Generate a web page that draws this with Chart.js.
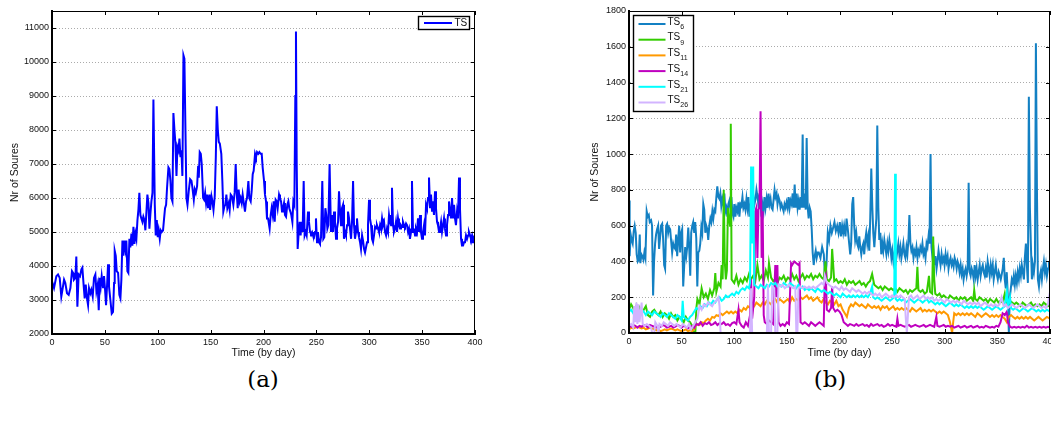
<!DOCTYPE html>
<html><head><meta charset="utf-8">
<script src="https://cdn.jsdelivr.net/npm/chart.js@4.4.1/dist/chart.umd.min.js"></script>
<style>
html,body{margin:0;padding:0;background:#fff;overflow:hidden;width:1051px;height:421px;position:relative;}
#ca{position:absolute;left:0;top:0;}
#cb{position:absolute;left:560px;top:0;}
.cap{position:absolute;top:365px;width:100px;text-align:center;font-family:"DejaVu Serif","Liberation Serif",serif;font-size:23px;line-height:28px;color:#000;}
</style></head><body>
<canvas id="ca" width="500" height="359"></canvas>
<canvas id="cb" width="520" height="359"></canvas>
<div class="cap" style="left:213px">(a)</div>
<div class="cap" style="left:780px">(b)</div>
<script>
// ---------- DATA ----------
const xTicks = [0,50,100,150,200,250,300,350,400];
const yTicksA = [2000,3000,4000,5000,6000,7000,8000,9000,10000,11000];
const yTicksB = [0,200,400,600,800,1000,1200,1400,1600,1800];
const xTitle = 'Time (by day)';
const yTitle = 'Nr of Soures';
const labelA = 'TS';
const labelsB = ['TS','TS','TS','TS','TS','TS'];
const subsB = ['6','9','11','14','21','26'];

// (a) total sources per day [day, count]
const tsTotal = [[0,3550],[1.9,3350],[4.1,3700],[5.7,3750],[7.3,3650],[8.8,3100],[10.4,3400],[11.4,3600],[12.6,3500],[14.2,3200],[15.8,3150],[17.4,3350],[18.9,3850],[19.9,3800],[20.8,3600],[22.1,3650],[23,4280],[24,2800],[25.2,3750],[26.5,3700],[27.8,3900],[28.7,3950],[30,3400],[30.9,3050],[31.9,3450],[33.1,3050],[34.1,2850],[35,3350],[36.3,3200],[37.2,3300],[38.5,3100],[39.7,3650],[41,3750],[42,3250],[43.2,3450],[44.2,2700],[45.1,3650],[46.1,3400],[47,3700],[48.3,3350],[49.2,3700],[50.2,3300],[51.1,2850],[52.1,3450],[53,4050],[53.9,3400],[55.2,3000],[56.5,2600],[57.7,2650],[58.7,3500],[59.3,4450],[60.3,4300],[61.2,3850],[62.5,3800],[63.7,3150],[64.7,3050],[65.6,3600],[66.6,4750],[67.5,4300],[68.5,4750],[69.4,4500],[70.3,4750],[71.3,3850],[72.2,3800],[73.2,4800],[74.1,4550],[75.1,4950],[76,4600],[77,5150],[77.9,4650],[78.9,4950],[79.8,4800],[80.8,5350],[81.7,5650],[82.6,6150],[83.6,5500],[84.5,5400],[85.5,5300],[86.4,5450],[87.4,5350],[88.3,5050],[89.3,5600],[90.2,6100],[91.2,5850],[92.1,5100],[93.1,5550],[94,5900],[95,6150],[95.9,8900],[97.2,5800],[98.1,4900],[99.1,5350],[100,4850],[100.9,5050],[101.9,4800],[102.8,5050],[103.8,5000],[105,5050],[106,5400],[106.9,5700],[107.9,5800],[108.8,6300],[110.1,6900],[111,6850],[112,6500],[112.9,6000],[113.9,5900],[114.8,8500],[115.8,8000],[116.7,7600],[117.7,6650],[118.6,7500],[119.6,7400],[120.5,7750],[121.5,7200],[122.4,7400],[123.3,6650],[124.3,10200],[125.2,10100],[126.2,8000],[127.1,6000],[128.1,5800],[129.3,6200],[130.6,6550],[131.9,6500],[132.8,6300],[134.1,5950],[135,6250],[136,6150],[137.2,6350],[138.2,6950],[138.8,6600],[139.7,7350],[140.7,7300],[141.6,7000],[142.9,6000],[143.8,5950],[144.8,6150],[145.7,5850],[146.7,6100],[147.6,5700],[148.9,6100],[149.5,5650],[150.8,6050],[151.7,5900],[152.7,5650],[153.9,6050],[154.9,7200],[155.8,8700],[156.8,8000],[157.7,7650],[158.7,7600],[160.1,7300],[161.1,6500],[162,5600],[163,5750],[163.9,5800],[164.9,6100],[165.8,5700],[167.1,5850],[168,5650],[169,6100],[170.2,6050],[171.5,5800],[172.7,6150],[173.7,7000],[174.6,6200],[175.6,5700],[176.5,6250],[177.5,5900],[178.4,6000],[179.4,5850],[180.3,6100],[181.6,5800],[182.5,5600],[183.5,5900],[184.4,6000],[185.7,6500],[186.6,6000],[187.9,5900],[188.8,6200],[189.8,6700],[190.7,6800],[192,7300],[192.9,7200],[193.9,7350],[195.1,7300],[196.1,7350],[197.3,7300],[198.3,7300],[199.2,6900],[200.5,6500],[201.4,6100],[202.4,5900],[203.3,5400],[204.3,5400],[205.8,5100],[206.8,5500],[207.7,5700],[208.7,5500],[209.6,5900],[210.6,5300],[211.5,5950],[212.5,5900],[213.4,5700],[214.7,6100],[215.6,6000],[216.6,5900],[217.5,5600],[218.4,5700],[219.4,5850],[220.3,5500],[221.3,5450],[222.5,5800],[223.5,5900],[224.4,5700],[225.4,5600],[226.3,5500],[227.3,5300],[228.2,5900],[229.2,5800],[230.1,9000],[230.7,10900],[231.4,7000],[232.3,4500],[233.3,5000],[234.2,5300],[235.1,4900],[236.1,5300],[237,5000],[238,6500],[238.9,4900],[239.9,5000],[240.8,4900],[242.1,5600],[243,5300],[244,5000],[244.9,4950],[245.9,5000],[246.8,4900],[247.8,4850],[248.7,5000],[249.6,5400],[250.6,4700],[251.5,5000],[252.5,4700],[253.4,4650],[254.4,4850],[255.6,6500],[256.6,4800],[257.5,4850],[258.5,5700],[259.4,5500],[260.4,5100],[261.3,5200],[262.5,7000],[263.8,5000],[264.8,5500],[265.7,5000],[266.7,5600],[267.6,5300],[268.6,4800],[269.5,5100],[270.5,5300],[271.4,6200],[272.4,5600],[273.3,5200],[274.2,5700],[275.2,5800],[276.1,4800],[277.1,5000],[278,4900],[279,5200],[279.9,5600],[280.9,5400],[281.8,5100],[282.8,4800],[283.7,5300],[284.7,6500],[285.6,5200],[286.5,4800],[287.5,5000],[288.4,5400],[289.4,5000],[290.3,4850],[291.3,4700],[292.2,4500],[293.2,4900],[294.1,4750],[295.1,4500],[296,4400],[296.9,4400],[297.9,4700],[298.8,5200],[299.8,5950],[300.7,5400],[301.7,5200],[302.6,4800],[303.6,4700],[304.5,4900],[305.5,5150],[306.4,5100],[307.3,5200],[308.3,5100],[309.2,5000],[310.2,5200],[311.1,5100],[312.1,5400],[313,5200],[314,5300],[314.9,5000],[315.9,4900],[316.8,5100],[317.7,5000],[318.7,5500],[319.6,5300],[320.6,5200],[321.5,6300],[322.5,5200],[323.4,5000],[324.4,5100],[325.3,5300],[326.3,5000],[327.2,5400],[328.1,5200],[329.1,5100],[330,5200],[331,5150],[331.9,5300],[332.9,5200],[333.8,5150],[334.8,5250],[335.7,5200],[336.7,5000],[337.6,5100],[338.5,4800],[339.5,5000],[340.4,6500],[341.4,5000],[342.3,5100],[343.3,4900],[344.2,5100],[345.2,5000],[346.1,5400],[347.1,5000],[348,5500],[348.9,5000],[349.9,4800],[350.8,5000],[351.8,5200],[352.7,4900],[353.7,5800],[354.6,5700],[355.6,6000],[356.5,6600],[357.5,5700],[358.4,6100],[359.4,5600],[360.3,5900],[361.2,5500],[362.2,6200],[363.1,5700],[364.1,5300],[365,5200],[366,5000],[366.9,5100],[367.9,5300],[368.8,5000],[369.8,5200],[370.7,5400],[371.6,5100],[372.6,4900],[373.5,5200],[374.5,5500],[375.4,5900],[376.4,5600],[377.3,5400],[378.3,6000],[379.2,5400],[380.2,5800],[381.1,5400],[382,5200],[383,5600],[383.9,5400],[384.9,6600],[385.8,5700],[386.8,4800],[387.7,4600],[388.7,4600],[389.6,4700],[390.6,4700],[391.5,4900],[392.5,4800],[393.4,4900],[394.3,5000],[395.3,4900],[396.2,4800],[397.2,4900],[398.1,4700],[399.1,4700]];

// (b) per-source series [day, count]
const ts6 = [[0,740],[0.6,430],[1.6,550],[2.5,520],[3.5,500],[4.5,570],[5.4,600],[6.4,560],[7.3,440],[8.3,400],[9.2,410],[10.2,550],[10.8,390],[11.8,440],[12.7,430],[13.7,410],[14.6,450],[15.6,420],[16.8,680],[17.8,650],[18.8,660],[19.7,620],[21,630],[21.9,600],[22.9,210],[23.8,400],[24.8,500],[25.7,550],[26.7,580],[27.7,600],[28.6,470],[29.6,540],[30.5,600],[31.5,610],[32.4,530],[33.4,380],[34.3,360],[35.3,600],[36.2,610],[37.2,560],[38.1,590],[39.1,580],[40.1,510],[41,450],[42,500],[42.9,480],[43.9,470],[44.8,550],[45.8,430],[46.7,520],[47.7,600],[48.6,450],[49.6,560],[50.5,580],[51.5,260],[52.5,380],[53.4,480],[54.4,430],[55.3,480],[56.3,590],[57.2,480],[58.2,320],[59.1,560],[60.1,600],[61,620],[62,560],[62.9,620],[63.9,530],[64.9,260],[65.8,450],[66.8,460],[67.7,500],[68.7,590],[69.6,560],[70.6,720],[71.5,690],[72.5,560],[73.4,600],[74.4,580],[75.3,520],[76.3,600],[77.3,640],[78.2,620],[79.2,680],[80.1,640],[81.1,690],[82,680],[83,760],[83.9,820],[84.9,760],[85.8,750],[86.8,780],[87.7,710],[88.7,750],[89.6,720],[90.6,780],[91.6,680],[92.5,700],[93.5,650],[94.4,720],[95.4,740],[96.3,700],[97.3,760],[98.2,670],[99.2,650],[100.1,720],[101.1,650],[102,700],[103,680],[104,730],[104.9,650],[105.9,720],[106.8,710],[107.8,760],[108.7,700],[109.7,720],[110.6,690],[111.6,750],[112.5,700],[113.5,760],[114.4,650],[115.4,700],[116.4,760],[117.3,680],[118.3,760],[119.2,720],[120.2,750],[121.1,800],[122.1,760],[123,720],[124,780],[124.9,720],[125.9,650],[126.8,720],[127.8,680],[128.7,760],[129.7,700],[130.7,750],[131.6,700],[132.6,780],[133.5,720],[134.5,750],[135.4,700],[136.4,690],[137.3,740],[138.3,800],[139.2,760],[140.2,780],[141.1,720],[142.1,760],[143.1,740],[144,700],[145,720],[145.9,700],[146.9,680],[147.8,720],[148.8,700],[149.7,730],[150.7,700],[151.6,760],[152.6,700],[153.5,740],[154.5,720],[155.5,780],[156.4,700],[157.4,830],[158.3,700],[159.3,780],[160.2,700],[161.2,740],[162.1,690],[163.1,760],[164,700],[165,1110],[165.9,700],[166.9,780],[167.9,690],[168.8,1090],[169.8,700],[170.7,640],[171.7,700],[172.6,680],[173.6,580],[174.5,450],[175.5,380],[176.4,430],[177.4,460],[178.3,420],[179.3,450],[180.3,450],[181.9,420],[183.5,480],[185.1,440],[186.3,300],[187.6,380],[188.9,560],[190.1,520],[191.4,600],[192.7,560],[194,590],[195.2,620],[196.5,570],[197.8,600],[199,560],[200.3,620],[201.3,540],[202.5,600],[203.5,560],[204.4,600],[205.7,540],[206.7,640],[207.9,580],[209.2,500],[210.2,440],[211.1,500],[212.1,720],[213,760],[214,600],[214.9,520],[215.9,560],[216.8,500],[217.8,480],[218.8,540],[219.7,480],[220.7,440],[221.6,480],[222.6,500],[223.5,440],[224.5,520],[225.4,560],[226.4,500],[227.3,540],[228.3,460],[229.2,640],[230.2,920],[231.2,700],[232.1,560],[233.1,480],[234,560],[235,640],[235.9,1160],[236.9,700],[237.8,520],[238.8,560],[239.7,440],[240.7,500],[241.6,460],[242.6,520],[243.5,480],[244.5,440],[245.5,500],[246.4,460],[247.4,520],[248.3,480],[249.3,420],[250.2,460],[251.2,400],[252.1,440],[253.1,480],[254,420],[255,460],[255.9,500],[256.9,440],[257.9,480],[258.8,420],[259.8,460],[260.7,500],[261.7,440],[262.6,420],[263.6,480],[264.5,440],[265.5,520],[266.4,660],[267.4,500],[268.3,460],[269.3,480],[270.3,420],[271.2,460],[272.2,440],[273.1,480],[274.1,420],[275,460],[276,440],[276.9,480],[277.9,460],[278.8,500],[279.8,440],[280.7,460],[281.7,420],[282.7,500],[283.6,480],[284.6,540],[285.5,500],[286.5,1000],[287.4,480],[288.4,420],[289.3,460],[290.3,380],[291.2,430],[292.2,360],[293.1,400],[294.1,460],[295,420],[296,380],[297,440],[297.9,400],[298.9,420],[299.8,380],[300.8,440],[301.7,400],[302.7,430],[303.6,360],[304.6,400],[305.5,420],[306.5,380],[307.4,400],[308.4,370],[309.4,420],[310.3,400],[311.3,360],[312.2,400],[313.2,380],[314.1,340],[315.1,380],[316,330],[317,360],[317.9,300],[318.9,340],[319.8,360],[320.8,320],[321.8,360],[322.7,840],[323.7,340],[324.6,320],[325.6,360],[326.5,340],[327.5,300],[328.4,380],[329.4,320],[330.3,360],[331.3,300],[332.2,340],[333.2,380],[334.1,320],[335.1,360],[336.1,380],[337,340],[338,320],[338.9,360],[339.9,310],[340.8,400],[341.8,360],[342.7,320],[343.7,380],[344.6,340],[345.6,380],[346.5,300],[347.5,340],[348.5,380],[349.4,330],[350.4,300],[351.3,340],[352.3,320],[353.2,300],[354.2,330],[355.1,360],[356.1,420],[357,300],[358,250],[358.9,340],[359.9,210],[360.9,0],[361.8,200],[362.8,250],[363.7,300],[364.7,280],[365.6,320],[366.6,270],[367.5,320],[368.5,280],[369.4,340],[370.4,300],[371.3,360],[372.3,320],[373.2,380],[374.2,340],[375.2,300],[376.1,420],[377.1,500],[378,380],[379,280],[379.9,1320],[380.9,700],[381.8,500],[382.8,300],[383.7,380],[384.7,340],[385.7,400],[386.6,1620],[387.6,800],[388.5,300],[389.5,260],[390.4,320],[391.4,350],[392.3,300],[393.3,360],[394.2,400],[395.2,340],[396.1,380],[397.1,320],[398.1,360],[399,400],[400,350]];
const ts9 = [[0,130],[2,160],[4,140],[5,120],[7,150],[8,100],[10,140],[12,110],[14,130],[16,150],[18,100],[20,90],[22,120],[24,130],[26,110],[28,100],[30,120],[32,90],[34,110],[36,100],[38,80],[40,110],[42,90],[44,100],[46,70],[48,90],[50,80],[52,60],[54,90],[56,70],[58,60],[60,40],[61,10],[62,0],[63,0],[64,140],[65,190],[67,160],[69,250],[71,200],[73,220],[75,190],[77,240],[79,210],[81,250],[82,335],[83,230],[85,280],[87,260],[88,380],[89,300],[90,800],[91,400],[92,300],[93,350],[94,700],[96,600],[96.7,1170],[97.5,300],[100,280],[102,320],[104,270],[106,300],[108,280],[110,310],[112,290],[114,330],[116,300],[118,320],[120,290],[122,380],[124,300],[126,320],[128,290],[130,350],[132,310],[133,390],[135,310],[137,290],[139,300],[141,280],[143,310],[145,300],[147,320],[149,290],[151,310],[153,300],[155,330],[157,300],[159,320],[161,290],[163,310],[165,330],[167,300],[169,320],[171,310],[173,330],[175,300],[177,320],[179,310],[181,330],[183,310],[185,300],[186.7,400],[188,300],[190,290],[192,310],[193,470],[195,290],[197,300],[199,280],[201,290],[203,280],[205,300],[207,270],[209,290],[211,280],[213,290],[215,270],[217,280],[219,290],[221,270],[223,280],[225,260],[227,280],[229,290],[231,330],[233,270],[235,260],[237,250],[239,260],[241,240],[243,260],[245,250],[247,240],[249,250],[251,240],[253,250],[255,230],[257,250],[259,240],[261,230],[263,240],[265,220],[267,240],[269,230],[271,240],[273,250],[274,370],[275,240],[277,230],[279,240],[281,220],[283,230],[285,320],[286,230],[288,220],[289,540],[290,300],[291,220],[293,210],[295,220],[297,200],[299,210],[301,200],[303,190],[305,210],[307,200],[309,190],[311,200],[313,180],[315,200],[317,190],[319,200],[321,180],[323,190],[325,200],[327,180],[328,240],[329,190],[331,180],[333,200],[335,190],[337,180],[339,190],[341,170],[343,190],[345,180],[347,170],[349,190],[351,170],[353,180],[355,170],[357,220],[358,170],[360,160],[362,180],[364,170],[366,160],[368,170],[370,160],[372,150],[374,170],[376,160],[378,150],[380,160],[382,170],[384,150],[386,160],[388,150],[390,160],[392,150],[394,170],[396,160],[398,150],[400,160]];
const ts11 = [[0,20],[2,30],[4,25],[6,30],[8,35],[10,30],[12,25],[14,30],[16,20],[18,25],[20,30],[22,25],[24,20],[26,15],[28,20],[30,10],[32,15],[34,20],[36,15],[38,20],[40,25],[42,20],[44,15],[46,20],[48,15],[50,10],[52,15],[54,20],[56,10],[58,15],[60,10],[62,20],[63,40],[65,50],[67,45],[69,60],[71,55],[73,70],[75,80],[77,70],[79,90],[81,85],[83,100],[85,95],[87,110],[89,100],[91,110],[93,120],[95,110],[97,120],[99,110],[101,120],[103,110],[105,130],[107,120],[109,140],[111,130],[113,150],[115,140],[117,160],[119,150],[121,170],[123,160],[125,150],[127,170],[129,160],[131,180],[133,170],[135,160],[137,180],[139,190],[141,170],[143,190],[145,180],[147,170],[149,180],[151,190],[153,170],[155,200],[157,180],[159,190],[161,180],[163,200],[165,190],[167,200],[169,210],[171,190],[173,200],[175,180],[177,190],[179,200],[181,180],[183,170],[185,190],[187,170],[189,160],[191,180],[193,170],[195,160],[197,180],[199,150],[201,160],[203,130],[205,110],[207,90],[209,140],[211,160],[213,150],[215,170],[217,160],[219,150],[221,160],[223,150],[225,140],[227,160],[229,150],[231,140],[233,150],[235,140],[237,150],[239,130],[241,150],[243,140],[245,150],[247,130],[249,140],[251,150],[253,130],[255,140],[257,130],[259,140],[261,130],[263,140],[265,130],[267,120],[269,140],[271,130],[273,120],[275,130],[277,140],[279,120],[281,130],[283,120],[285,130],[287,120],[289,130],[291,120],[293,110],[295,120],[297,110],[299,120],[301,110],[303,100],[305,60],[307,0],[308,60],[309,110],[311,100],[313,110],[315,100],[317,110],[319,100],[321,110],[323,100],[325,110],[327,100],[329,90],[331,110],[333,100],[335,90],[337,100],[339,110],[341,100],[343,90],[345,100],[347,90],[349,100],[351,90],[353,100],[355,90],[357,80],[359,60],[361,90],[363,100],[365,90],[367,80],[369,90],[371,80],[373,90],[375,80],[377,90],[379,80],[381,90],[383,80],[385,70],[387,80],[389,90],[391,80],[393,70],[395,80],[397,90],[400,80]];
const ts14 = [[0,40],[2,35],[4,45],[6,40],[8,30],[10,40],[12,35],[14,45],[16,40],[18,30],[20,45],[22,40],[24,35],[26,30],[28,40],[30,35],[32,45],[34,40],[36,30],[38,35],[40,40],[42,30],[44,35],[46,45],[48,40],[50,30],[52,40],[54,35],[56,25],[58,35],[60,40],[62,30],[64,50],[66,45],[68,60],[70,40],[72,55],[74,50],[76,60],[78,45],[80,50],[82,60],[84,45],[86,55],[88,50],[90,60],[92,45],[94,50],[96,40],[98,55],[100,60],[102,50],[104,130],[105,60],[107,40],[109,30],[111,60],[113,40],[115,100],[116,300],[117,80],[119,200],[120,680],[121,700],[122,420],[123,690],[124,700],[125,1240],[126,420],[127,680],[128,100],[129,60],[131,50],[133,70],[135,60],[137,50],[139,380],[140,200],[141,380],[142,60],[144,40],[146,50],[148,40],[150,60],[152,50],[154,390],[155,380],[157,400],[159,390],[161,380],[162,390],[163,60],[165,50],[167,60],[169,50],[171,40],[173,60],[175,50],[177,40],[179,50],[181,60],[183,50],[185,40],[186,300],[187,320],[188,130],[190,120],[192,140],[193,260],[194,140],[196,120],[198,130],[200,120],[202,100],[204,60],[206,50],[208,40],[210,50],[212,45],[214,40],[216,50],[218,40],[220,45],[222,50],[224,40],[226,45],[228,35],[230,50],[232,40],[234,45],[236,50],[238,40],[240,45],[242,35],[244,40],[246,50],[248,40],[250,45],[252,40],[254,35],[255,80],[256,40],[258,45],[260,40],[262,35],[264,40],[266,45],[268,35],[270,40],[272,45],[274,40],[276,35],[278,40],[280,45],[282,35],[284,40],[286,45],[288,40],[290,35],[292,90],[293,40],[295,35],[297,40],[299,45],[301,35],[303,40],[305,35],[307,40],[309,30],[311,35],[313,40],[315,30],[317,35],[319,40],[321,30],[323,35],[325,40],[327,30],[329,35],[331,40],[333,30],[335,35],[337,30],[339,40],[341,35],[343,30],[345,35],[347,30],[349,40],[351,35],[353,60],[355,110],[357,100],[359,120],[360,60],[362,35],[364,30],[366,35],[368,30],[370,35],[372,30],[374,35],[376,30],[378,40],[380,30],[382,35],[384,30],[386,35],[388,30],[390,35],[392,30],[394,35],[396,30],[398,35],[400,30]];
const ts21 = [[0,120],[2,130],[4,110],[6,140],[8,120],[10,110],[12,130],[14,120],[16,100],[18,120],[20,110],[22,100],[24,120],[26,110],[28,100],[30,90],[32,110],[34,100],[36,90],[38,110],[40,100],[42,90],[44,80],[46,100],[48,90],[50,70],[51,180],[52,90],[54,80],[56,70],[58,90],[60,100],[62,120],[64,140],[66,130],[68,150],[70,140],[72,160],[74,150],[76,170],[78,160],[80,180],[82,170],[84,190],[86,200],[88,180],[90,190],[92,210],[94,200],[96,210],[98,220],[100,210],[102,230],[104,220],[106,240],[108,250],[110,240],[112,260],[114,250],[115,280],[116,930],[117,500],[118,930],[119,270],[121,260],[123,250],[125,270],[127,260],[129,250],[131,270],[133,260],[135,280],[137,270],[139,280],[141,260],[143,270],[145,260],[147,280],[149,270],[151,260],[153,280],[155,270],[157,260],[159,250],[161,270],[163,250],[165,260],[167,240],[169,250],[171,240],[173,250],[175,240],[177,230],[179,250],[181,240],[183,230],[185,240],[187,230],[189,220],[191,230],[193,220],[195,210],[197,220],[199,210],[201,200],[203,220],[205,210],[207,200],[209,210],[211,200],[213,210],[215,200],[217,210],[219,200],[221,210],[223,200],[225,210],[227,200],[229,220],[231,260],[232,200],[234,190],[236,200],[238,190],[240,180],[242,190],[244,200],[246,190],[248,180],[250,190],[252,200],[252.8,890],[253.5,190],[255,180],[257,190],[259,180],[261,190],[263,170],[265,180],[267,190],[269,180],[271,170],[273,180],[275,190],[277,180],[279,170],[281,180],[283,190],[285,170],[287,180],[289,170],[291,160],[293,170],[295,160],[297,170],[299,160],[301,150],[303,160],[305,170],[307,160],[309,150],[311,160],[313,150],[315,160],[317,150],[319,140],[321,150],[323,140],[325,150],[327,140],[329,150],[331,140],[333,150],[335,140],[337,130],[339,140],[341,150],[343,140],[345,130],[347,140],[349,150],[351,140],[353,130],[355,140],[357,150],[359,230],[360,150],[362,200],[363,140],[365,130],[367,140],[369,130],[371,120],[373,130],[375,140],[377,130],[379,120],[381,130],[383,140],[385,130],[387,120],[389,130],[391,120],[393,130],[395,120],[397,130],[400,120]];
const ts26 = [[0,40],[2,50],[4,30],[5,150],[6,60],[7,170],[8,50],[9,160],[10,60],[12,170],[13,50],[15,40],[17,50],[19,40],[21,30],[22,0],[24,0],[25,60],[27,40],[28,0],[29,50],[31,40],[33,60],[35,50],[37,40],[39,60],[41,50],[43,40],[45,50],[47,40],[49,30],[51,50],[53,40],[55,30],[57,50],[59,20],[61,40],[63,60],[65,80],[67,150],[69,130],[71,160],[73,150],[75,170],[77,160],[79,150],[81,170],[83,180],[85,200],[86,150],[87,0],[115,0],[116,250],[117,0],[131,0],[132,270],[133,0],[135,0],[136,260],[138,250],[139,0],[141,0],[142,270],[144,260],[146,270],[148,250],[150,260],[152,270],[154,260],[156,250],[158,260],[159,0],[160,0],[161,250],[163,260],[165,250],[167,260],[169,250],[171,260],[173,250],[175,260],[177,250],[179,260],[181,270],[183,280],[185,270],[186,320],[188,280],[190,270],[192,260],[194,250],[196,260],[198,250],[200,240],[202,260],[204,240],[206,250],[208,240],[210,230],[212,250],[214,240],[216,230],[218,240],[220,230],[222,220],[224,230],[226,220],[228,230],[230,220],[232,210],[234,220],[236,210],[238,220],[240,200],[242,210],[244,220],[246,210],[248,200],[250,210],[252,200],[254,210],[256,200],[258,210],[260,200],[262,190],[263,80],[264,0],[265,100],[266,200],[268,210],[270,190],[272,200],[274,210],[276,190],[278,200],[280,210],[282,190],[284,200],[286,190],[288,200],[290,180],[292,190],[294,180],[296,190],[298,180],[300,170],[302,190],[304,180],[306,170],[308,180],[310,170],[312,180],[314,170],[316,160],[318,180],[320,170],[322,160],[324,170],[326,160],[328,170],[330,160],[332,170],[334,150],[336,160],[338,170],[340,160],[342,150],[344,160],[346,150],[348,160],[350,150],[352,160],[354,200],[356,150],[358,160],[360,140],[362,150],[364,160],[366,150],[368,140],[370,150],[372,160],[374,150],[376,140],[378,150],[380,160],[382,150],[384,140],[386,150],[388,160],[390,150],[392,140],[394,150],[396,140],[398,160],[400,230]];

// ---------- STYLE / DRAWING ----------
const FONT = '"Liberation Sans", Arial, Helvetica, sans-serif';
const colorA = '#0000ff';
const colorsB = ['#1380c3','#33cc00','#ff9900','#bf00bf','#00ffff','#d2b4ff'];
const pts = arr => arr.map(p => ({x: p[0], y: p[1]}));

const framePlugin = {
  id: 'frame',
  afterDatasetsDraw(chart) {
    const {ctx, chartArea: {left, top, right, bottom}, scales: {x, y}} = chart;
    ctx.save();
    ctx.strokeStyle = '#000';
    ctx.lineWidth = 1;
    ctx.beginPath();
    ctx.moveTo(left, top + 0.5); ctx.lineTo(right, top + 0.5);
    ctx.moveTo(right - 0.5, top); ctx.lineTo(right - 0.5, bottom);
    const L = 4;
    x.ticks.forEach(t => {
      const p = Math.round(x.getPixelForValue(t.value)) + 0.5;
      ctx.moveTo(p, bottom); ctx.lineTo(p, bottom - L);
      ctx.moveTo(p, top); ctx.lineTo(p, top + L);
    });
    y.ticks.forEach(t => {
      const p = Math.round(y.getPixelForValue(t.value)) + 0.5;
      ctx.moveTo(left, p); ctx.lineTo(left + L, p);
      ctx.moveTo(right, p); ctx.lineTo(right - L, p);
    });
    ctx.stroke();
    ctx.lineWidth = 2;
    ctx.beginPath();
    ctx.moveTo(left - 1, bottom); ctx.lineTo(right, bottom);
    ctx.moveTo(left, top); ctx.lineTo(left, bottom + 1);
    ctx.stroke();
    ctx.restore();
  }
};

const boxLegend = {
  id: 'boxLegend',
  afterDraw(chart, args, o) {
    if (!o || !o.w) return;
    const {ctx, chartArea: ca} = chart;
    const bx = o.corner === 'right' ? ca.right - o.inset - o.w : ca.left + o.inset;
    const by = ca.top + o.inset;
    ctx.save();
    ctx.fillStyle = '#fff';
    ctx.fillRect(bx, by, o.w, o.h);
    ctx.strokeStyle = '#000';
    ctx.lineWidth = 1.4;
    ctx.strokeRect(bx + 0.5, by + 0.5, o.w - 1, o.h - 1);
    chart.data.datasets.forEach((d, i) => {
      const ry = by + o.first + i * o.rowH;
      ctx.strokeStyle = d.borderColor;
      ctx.lineWidth = 2;
      ctx.beginPath();
      ctx.moveTo(bx + o.padL, ry); ctx.lineTo(bx + o.padL + o.lineLen, ry);
      ctx.stroke();
      ctx.fillStyle = '#111';
      ctx.textBaseline = 'middle';
      ctx.textAlign = 'left';
      ctx.font = o.size + 'px ' + FONT;
      const tx = bx + o.padL + o.lineLen + o.gap;
      ctx.fillText(d.label, tx, ry + o.mainDy);
      if (d.sub) {
        const w = ctx.measureText(d.label).width;
        ctx.font = o.subSize + 'px ' + FONT;
        ctx.fillText(d.sub, tx + w, ry + o.subDy);
      }
    });
    ctx.restore();
  }
};

function scalesFor(yMin, yMax, yTicks, yWidth, xHeight, yTitlePad) {
  const tickFont = {family: FONT, size: 9};
  const titleFont = {family: FONT, size: 10.5};
  return {
    x: {
      type: 'linear', min: 0, max: 400,
      afterBuildTicks: s => { s.ticks = xTicks.map(v => ({value: v})); },
      afterFit: s => { s.height = xHeight; },
      ticks: {font: tickFont, color: '#111', padding: 3, maxRotation: 0, autoSkip: false, callback: v => String(v)},
      grid: {drawOnChartArea: false, drawTicks: false},
      border: {color: '#000', width: 2},
      title: {display: true, text: xTitle, font: titleFont, color: '#111', padding: {top: 0, bottom: 0}}
    },
    y: {
      type: 'linear', min: yMin, max: yMax,
      afterBuildTicks: s => { s.ticks = yTicks.map(v => ({value: v})); },
      afterFit: s => { s.width = yWidth; },
      ticks: {font: tickFont, color: '#111', padding: 3, autoSkip: false, callback: v => String(v)},
      grid: {color: '#ababab', lineWidth: 1, drawTicks: false},
      border: {color: '#000', width: 2, dash: [1, 2]},
      title: {display: true, text: yTitle, font: titleFont, color: '#111', padding: {top: yTitlePad, bottom: 0}}
    }
  };
}

const common = {
  responsive: false, animation: false, devicePixelRatio: 1,
  elements: {point: {radius: 0}, line: {tension: 0}},
  plugins: {legend: {display: false}, tooltip: {enabled: false}}
};

new Chart(document.getElementById('ca'), {
  type: 'line',
  data: {datasets: [{label: labelA, data: pts(tsTotal), borderColor: colorA, borderWidth: 2, pointRadius: 0}]},
  options: Object.assign({}, common, {
    layout: {padding: {left: 0, top: 11, right: 25, bottom: 0}},
    scales: scalesFor(2000, 11500, yTicksA, 52, 25, 9),
    plugins: Object.assign({}, common.plugins, {
      boxLegend: {corner: 'right', inset: 5, w: 52, h: 14, first: 7, rowH: 15.7, padL: 6, lineLen: 28, gap: 2.5, size: 10, subSize: 7, mainDy: 0, subDy: 3}
    })
  }),
  plugins: [framePlugin, boxLegend]
});

const seriesB = [ts6, ts9, ts11, ts14, ts21, ts26];
new Chart(document.getElementById('cb'), {
  type: 'line',
  data: {datasets: seriesB.map((s, i) => ({
    label: labelsB[i], sub: subsB[i], data: pts(s), borderColor: colorsB[i],
    borderWidth: 2, pointRadius: 0, order: seriesB.length - i
  }))},
  options: Object.assign({}, common, {
    layout: {padding: {left: 20, top: 11, right: 30, bottom: 0}},
    scales: scalesFor(0, 1800, yTicksB, 49, 26, 9),
    plugins: Object.assign({}, common.plugins, {
      boxLegend: {corner: 'left', inset: 4, w: 61, h: 97, first: 9, rowH: 15.7, padL: 5.5, lineLen: 27, gap: 2, size: 10, subSize: 7, mainDy: -2, subDy: 3}
    })
  }),
  plugins: [framePlugin, boxLegend]
});
</script>
</body></html>
